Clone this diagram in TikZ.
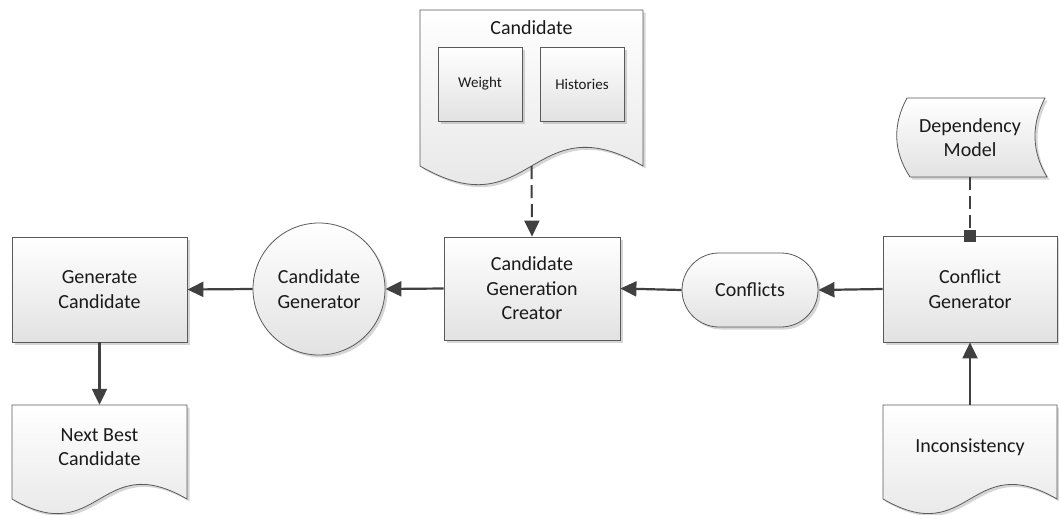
\documentclass[tikz,border=0pt]{standalone}
\usepackage{fontspec}
\setmainfont{Carlito}
\usetikzlibrary{arrows.meta,shapes.misc,shadows}

\definecolor{edge}{HTML}{5A5A5A}
\definecolor{wire}{HTML}{404040}
\definecolor{fillbot}{HTML}{E2E2E2}
\definecolor{ink}{HTML}{1A1A1A}

% document shape: left, top, right, baseline of the wavy bottom
\newcommand{\flowdoc}[4]{%
  \path[shapefill] (#1,#2) -- (#3,#2) -- (#3,#4)
    .. controls ({0.5*(#1+#3)},{#4-0.29*(#3-#1)}) and ({0.5*(#1+#3)},{#4+0.29*(#3-#1)}) .. (#1,#4)
    -- cycle;}

\tikzset{
  shapefill/.style={draw=edge, line width=0.8pt, top color=white, bottom color=fillbot,
    drop shadow={shadow xshift=2.5pt, shadow yshift=-2.5pt, fill=black, opacity=0.16}},
  txt/.style={font=\fontsize{20}{24.4}\selectfont, text=ink, align=center, inner sep=0pt},
  smalltxt/.style={font=\fontsize{15}{18}\selectfont, text=ink, align=center, inner sep=0pt},
  procbox/.style={shapefill, txt, rectangle},
  flow/.style={draw=wire, line width=2.2pt, -{Triangle[length=16pt,width=15pt]}},
  dashflow/.style={draw=wire, line width=2pt, dash pattern=on 13pt off 6pt},
}

\begin{document}
\begin{tikzpicture}[x=1pt,y=-1pt]
\useasboundingbox[fill=white] (0,0) rectangle (1059,514);

% process boxes
\node[procbox, minimum width=175pt, minimum height=105pt] (gen) at (99.5,289.5) {Generate\\Candidate};
\node[procbox, circle, minimum size=132pt] (cgen) at (319,289) {Candidate\\Generator};
\node[procbox, minimum width=176pt, minimum height=103pt] (cgc) at (532,288.5) {Candidate\\Generation\\Creator};
\node[procbox, rounded rectangle, minimum width=136pt, minimum height=74pt] (conf) at (750,290) {Conflicts};
\node[procbox, minimum width=174pt, minimum height=106pt] (cg) at (970,289) {Conflict\\Generator};

% document shapes
\flowdoc{420}{10}{643}{166}
\node[txt] (candtitle) at (531.5,28) {Candidate};
\node[inner sep=0pt, minimum width=223pt, minimum height=156pt] (cand) at (531.5,88) {};
\node[procbox, smalltxt, minimum width=84pt, minimum height=74pt] (weight) at (480,84) {Weight};
\node[procbox, smalltxt, minimum width=84pt, minimum height=74pt] (hist) at (582,84) {Histories};

\flowdoc{12}{405}{187}{499}
\node[txt, minimum width=175pt, minimum height=84pt] (nbc) at (99.5,447) {Next Best\\Candidate};

\flowdoc{883}{405}{1057}{499}
\node[txt, minimum width=174pt, minimum height=84pt] (inc) at (970,447) {Inconsistency};

% stored data shape
\path[shapefill] (907,98) -- (1045,98)
  .. controls (1031.3,124) and (1031.3,151) .. (1047,177)
  -- (910,177)
  .. controls (892.8,151) and (892.8,124) .. (907,98) -- cycle;
\node[txt, minimum width=140pt, minimum height=79pt] (dep) at (970,137.5) {Dependency\\Model};

% connectors
\draw[flow] (cg.west) -- (conf.east);
\draw[flow] (conf.west) -- (cgc.east);
\draw[flow] (cgc.west) -- (cgen.east);
\draw[flow] (cgen.west) -- (gen.east);
\draw[flow] (gen.south) -- (nbc.north);
\draw[flow] (inc.north) -- (cg.south);
\draw[dashflow, -{Triangle[length=16pt,width=15pt]}] (cand.south) -- (cgc.north);
\draw[dashflow, -{Square[length=12pt,width=12pt]}, shorten >=-6pt] (dep.south) -- (cg.north);
\end{tikzpicture}
\end{document}
